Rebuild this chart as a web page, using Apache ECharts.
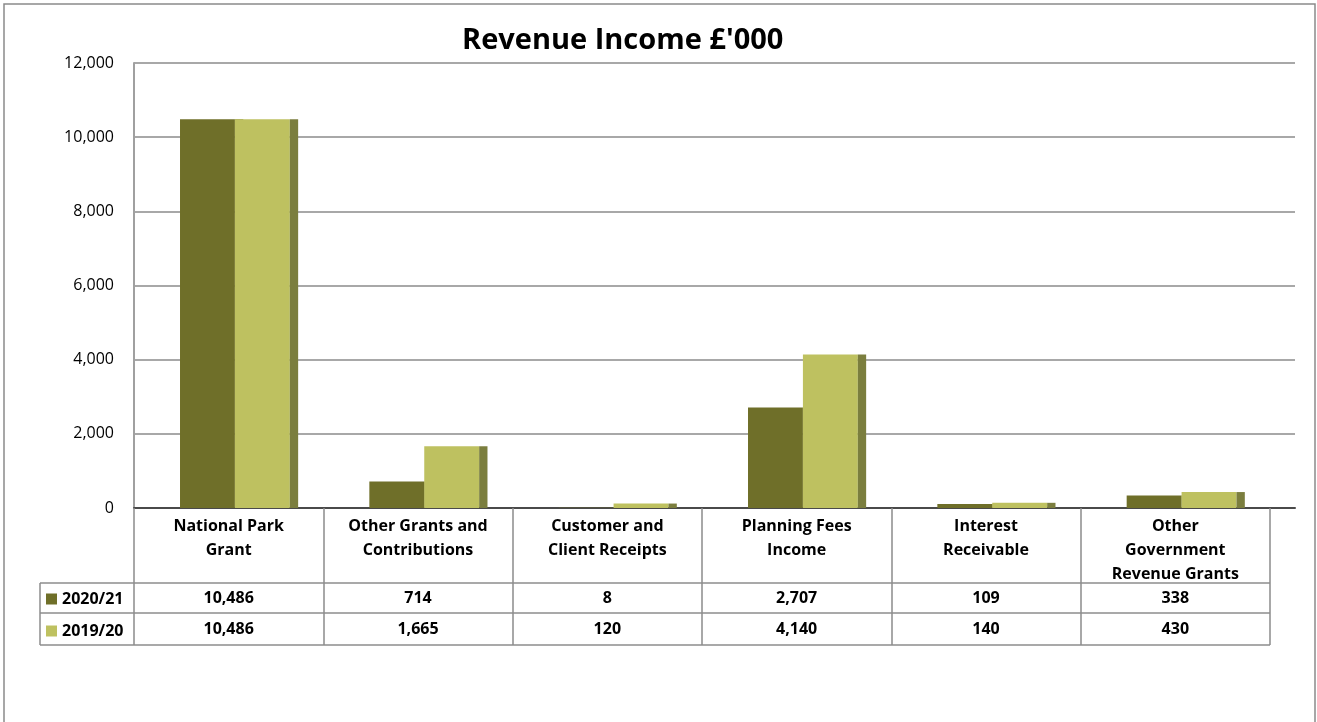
<!DOCTYPE html>
<html>
<head>
<meta charset="utf-8">
<script src="https://cdn.jsdelivr.net/npm/echarts@6/dist/echarts.min.js"></script>
<style>
  html, body { margin: 0; padding: 0; background: #fff; }
  #chart { width: 1317px; height: 722px; }
</style>
</head>
<body>
<div id="chart"></div>
<script>
// chart data
var categories = [
  'National Park\nGrant',
  'Other Grants and\nContributions',
  'Customer and\nClient Receipts',
  'Planning Fees\nIncome',
  'Interest\nReceivable',
  'Other\nGovernment\nRevenue Grants'
];
var seriesNames = ['2020/21', '2019/20'];
var values2021 = [10486, 714, 8, 2707, 109, 338];
var values2020 = [10486, 1665, 120, 4140, 140, 430];
var yTicks = [0, 2000, 4000, 6000, 8000, 10000, 12000];

var FONT = '"Open Sans", Lato, sans-serif';
var DARK = '#6f6f29', LIGHT = '#bec160', SIDE = '#7b7e3e';
var LINE = '#8c8c8c';

function fmt(v) { return Number(v).toLocaleString('en-US'); }

// draws a column with a 3D side face, placed within the category band
function columnRenderer(offset) {
  return function (params, api) {
    var cat = api.value(0);
    var base = api.coord([cat, 0]);
    var top = api.coord([cat, api.value(1)]);
    var band = api.size([1, 0])[0];
    var w = band * 0.29;
    var x = base[0] + band * offset;
    return {
      type: 'group',
      children: [{
        type: 'rect',
        shape: { x: x, y: top[1], width: w, height: base[1] - top[1] },
        style: { fill: api.visual('color') }
      }, {
        type: 'rect',
        shape: { x: x + w, y: top[1], width: band * 0.044, height: base[1] - top[1] },
        style: { fill: SIDE }
      }]
    };
  };
}

var chart = echarts.init(document.getElementById('chart'));

var tableLines = [583, 613, 645].map(function (y) {
  return { type: 'line', shape: { x1: 40, y1: y, x2: 1270, y2: y }, style: { stroke: LINE, lineWidth: 1.5 } };
});
tableLines.push({ type: 'line', shape: { x1: 40, y1: 583, x2: 40, y2: 645 }, style: { stroke: LINE, lineWidth: 1.5 } });
tableLines.push({ type: 'rect', shape: { x: 4, y: 4, width: 1311, height: 740 }, style: { fill: 'none', stroke: '#8a8a8a', lineWidth: 1.5 } });

var cellText = { fontFamily: FONT, fontSize: 16, fontWeight: 'bold', color: '#000' };

chart.setOption({
  animation: false,
  backgroundColor: '#fff',
  title: {
    text: "Revenue Income £'000",
    left: 457, top: 21,
    textStyle: { fontFamily: FONT, fontSize: 29, fontWeight: 'bold', color: '#000' }
  },
  legend: {
    orient: 'vertical',
    left: 46, top: 591, padding: 0,
    itemWidth: 11, itemHeight: 11, itemGap: 16,
    icon: 'rect',
    data: seriesNames,
    textStyle: { fontFamily: FONT, fontSize: 16, fontWeight: 'bold', color: '#000', lineHeight: 11 }
  },
  grid: [
    { left: 134, right: 22, top: 63, bottom: 214 },
    { left: 134, right: 47, top: 63, bottom: 214 }
  ],
  xAxis: [
    {
      gridIndex: 0, type: 'value', min: 0, max: 1,
      axisLine: { show: true, lineStyle: { color: '#4a4a4a', width: 2 } },
      axisTick: { show: false }, axisLabel: { show: false }, splitLine: { show: false }
    },
    {
      gridIndex: 1, type: 'category', data: categories, position: 'bottom',
      axisLine: { show: false },
      axisTick: { show: true, length: 137, lineStyle: { color: LINE, width: 1.5 } },
      axisLabel: Object.assign({ interval: 0, margin: 6, lineHeight: 24 }, cellText)
    },
    {
      gridIndex: 1, type: 'category', data: categories, position: 'bottom', offset: 75,
      axisLine: { show: false }, axisTick: { show: false },
      axisLabel: Object.assign({
        interval: 0, margin: 15, verticalAlign: 'middle',
        formatter: function (v, i) { return fmt(values2021[i]); }
      }, cellText)
    },
    {
      gridIndex: 1, type: 'category', data: categories, position: 'bottom', offset: 105,
      axisLine: { show: false }, axisTick: { show: false },
      axisLabel: Object.assign({
        interval: 0, margin: 16, verticalAlign: 'middle',
        formatter: function (v, i) { return fmt(values2020[i]); }
      }, cellText)
    }
  ],
  yAxis: [
    {
      gridIndex: 0, type: 'value', min: yTicks[0], max: yTicks[yTicks.length - 1], interval: 2000,
      axisLine: { show: true, lineStyle: { color: '#a0a0a0', width: 2 } },
      axisTick: { show: false },
      axisLabel: { margin: 20, fontFamily: FONT, fontSize: 16, color: '#000', formatter: fmt },
      splitLine: { show: true, lineStyle: { color: '#a8a8a8', width: 2 } }
    },
    {
      gridIndex: 1, type: 'value', min: yTicks[0], max: yTicks[yTicks.length - 1],
      show: false, splitLine: { show: false }
    }
  ],
  graphic: tableLines,
  series: [
    {
      name: seriesNames[0], type: 'custom', xAxisIndex: 1, yAxisIndex: 1,
      itemStyle: { color: DARK },
      encode: { x: 0, y: 1 },
      renderItem: columnRenderer(-0.257),
      data: values2021.map(function (v, i) { return [i, v]; })
    },
    {
      name: seriesNames[1], type: 'custom', xAxisIndex: 1, yAxisIndex: 1,
      itemStyle: { color: LIGHT },
      encode: { x: 0, y: 1 },
      renderItem: columnRenderer(0.033),
      data: values2020.map(function (v, i) { return [i, v]; })
    }
  ]
});
</script>
</body>
</html>
